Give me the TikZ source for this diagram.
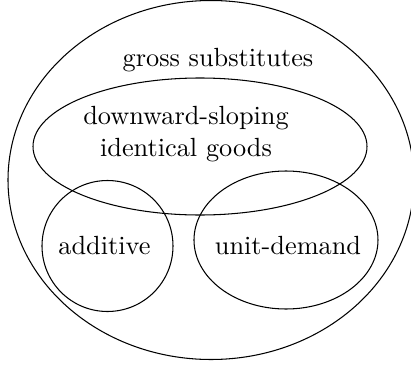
\documentclass[tikz,border=0pt]{standalone}

\begin{document}
\begin{tikzpicture}[scale = 0.01336]
        \useasboundingbox (0, 0) rectangle (411, 366);
        
        \draw (211, 186) ellipse [x radius = 203, y radius = 179.5];
        \draw (200, 219.5) ellipse [x radius = 167, y radius = 68.5];
        \draw (107.5, 120) circle [radius = 65.5];
        \draw (286, 126) ellipse [x radius = 92, y radius = 69];
        
        \node (gs) at (218, 306) {gross substitutes};
        \node[align = center] (dsig) at (186, 232) {downward-sloping\\identical goods};
        \node (add) at (104.5, 120) {additive};
        \node (ud) at (288, 120) {unit-demand};
      \end{tikzpicture}
\end{document}
